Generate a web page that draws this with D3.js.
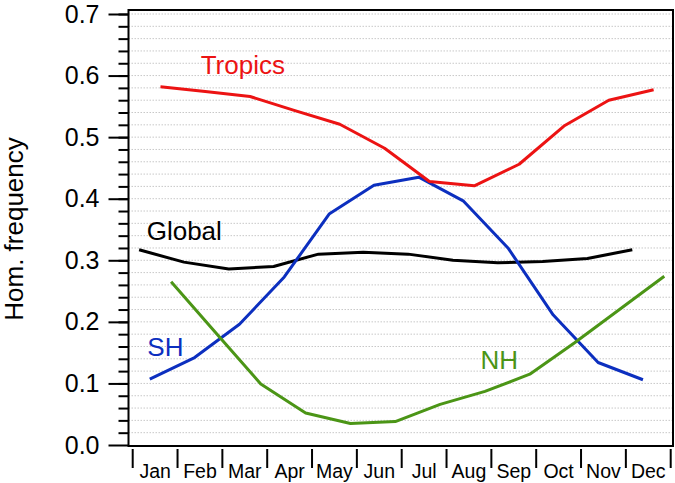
<!DOCTYPE html>
<html>
<head>
<meta charset="utf-8">
<script src="https://cdn.jsdelivr.net/npm/d3@7"></script>
<style>
  body { margin: 0; background: #fff; }
  svg { display: block; font-family: "Liberation Sans", Arial, Helvetica, sans-serif; }
</style>
</head>
<body>
<svg id="chart" width="675" height="483"></svg>
<script>
// Data
const months = ["Jan", "Feb", "Mar", "Apr", "May", "Jun", "Jul", "Aug", "Sep", "Oct", "Nov", "Dec"];
const globalValues  = [0.317, 0.297, 0.286, 0.290, 0.310, 0.313, 0.310, 0.300, 0.296, 0.298, 0.303, 0.317];
const shValues      = [0.107, 0.142, 0.196, 0.273, 0.375, 0.422, 0.435, 0.396, 0.319, 0.211, 0.134, 0.106];
const tropicsValues = [0.582, 0.574, 0.566, 0.543, 0.521, 0.482, 0.428, 0.421, 0.456, 0.518, 0.560, 0.577];
const nhValues      = [0.265, 0.182, 0.099, 0.052, 0.035, 0.038, 0.066, 0.087, 0.115, 0.166, 0.220, 0.274];
const yMajorTicks = [0.0, 0.1, 0.2, 0.3, 0.4, 0.5, 0.6, 0.7];

const series = [
    { name: "Global",  values: globalValues,  color: "#000000" },
    { name: "SH",      values: shValues,      color: "#0c2fbf" },
    { name: "Tropics", values: tropicsValues, color: "#ec1313" },
    { name: "NH",      values: nhValues,      color: "#4b9516" }
];

const svg = d3.select("#chart");
const frame = { left: 128.5, right: 673, top: 10, bottom: 446 };

const x = d3.scaleBand().domain(months).range([132.7, 670.7]).paddingInner(0).paddingOuter(0);
const monthPos = d3.scaleLinear().domain([0, 12]).range([132.7, 670.7]);
const offset = d3.scalePoint().domain(series.map(d => d.name)).range([-16, 16]);
const y = d3.scaleLinear().domain([0, 0.7]).range([445, 14]);

// dotted grid lines every 0.02
const minorTicks = d3.range(1, 36).map(i => +(i * 0.02).toFixed(2));
svg.append("g").selectAll("line").data(minorTicks).enter().append("line")
    .attr("x1", frame.left).attr("x2", frame.right)
    .attr("y1", d => y(d)).attr("y2", d => y(d))
    .attr("stroke", "#c8c8c8")
    .attr("stroke-width", 1)
    .attr("stroke-dasharray", "1.5,1.5");

// lines
const line = d3.line()
    .x((d, i, arr) => x(months[i]) + x.bandwidth() / 2)
    .y(d => y(d));

series.forEach(s => {
    svg.append("path")
        .datum(s.values)
        .attr("fill", "none")
        .attr("stroke", s.color)
        .attr("stroke-width", 3)
        .attr("stroke-linejoin", "round")
        .attr("transform", `translate(${offset(s.name)},0)`)
        .attr("d", line);
});

// frame
svg.append("rect")
    .attr("x", frame.left).attr("y", frame.top)
    .attr("width", frame.right - frame.left)
    .attr("height", frame.bottom - frame.top)
    .attr("fill", "none")
    .attr("stroke", "#000")
    .attr("stroke-width", 2);

// y axis: minor then major ticks
const yMinor = svg.append("g").attr("transform", `translate(${frame.left},0)`)
    .call(d3.axisLeft(y).tickValues(minorTicks).tickSize(10).tickFormat(""));
yMinor.select(".domain").remove();
yMinor.selectAll("line").attr("stroke-width", 2);

const yMajor = svg.append("g").attr("transform", `translate(${frame.left},0)`)
    .call(d3.axisLeft(y).tickValues(yMajorTicks).tickSize(20).tickPadding(9).tickFormat(d3.format(".1f")));
yMajor.select(".domain").remove();
yMajor.selectAll("line").attr("stroke-width", 2);
yMajor.selectAll("text").attr("font-size", 25).attr("fill", "#000")
    .attr("font-family", "Liberation Sans, Arial, sans-serif");

// x axis: ticks between months, labels centred
const xAxis = svg.append("g");
xAxis.selectAll("line").data(d3.range(0, 13)).enter().append("line")
    .attr("x1", d => monthPos(d)).attr("x2", d => monthPos(d))
    .attr("y1", 449).attr("y2", 468)
    .attr("stroke", "#000").attr("stroke-width", 2);
xAxis.selectAll("text").data(months).enter().append("text")
    .attr("x", d => x(d) + x.bandwidth() / 2)
    .attr("y", 477.5)
    .attr("text-anchor", "middle")
    .attr("font-size", 19.5)
    .text(d => d);

// y axis title
svg.append("text")
    .attr("transform", "translate(23,229) rotate(-90)")
    .attr("text-anchor", "middle")
    .attr("font-size", 26)
    .text("Hom. frequency");

// series labels
const labels = [
    { text: "Tropics", color: "#ec1313", m: 1.517, v: 0.602, anchor: "start" },
    { text: "Global",  color: "#000000", m: 0.312, v: 0.333, anchor: "start" },
    { text: "SH",      color: "#0c2fbf", m: 0.326, v: 0.145, anchor: "start" },
    { text: "NH",      color: "#4b9516", m: 8.595, v: 0.123, anchor: "end" }
];
svg.selectAll(".series-label").data(labels).enter().append("text")
    .attr("class", "series-label")
    .attr("x", d => monthPos(d.m))
    .attr("y", d => y(d.v))
    .attr("text-anchor", d => d.anchor)
    .attr("font-size", 26)
    .attr("fill", d => d.color)
    .text(d => d.text);
</script>
</body>
</html>
